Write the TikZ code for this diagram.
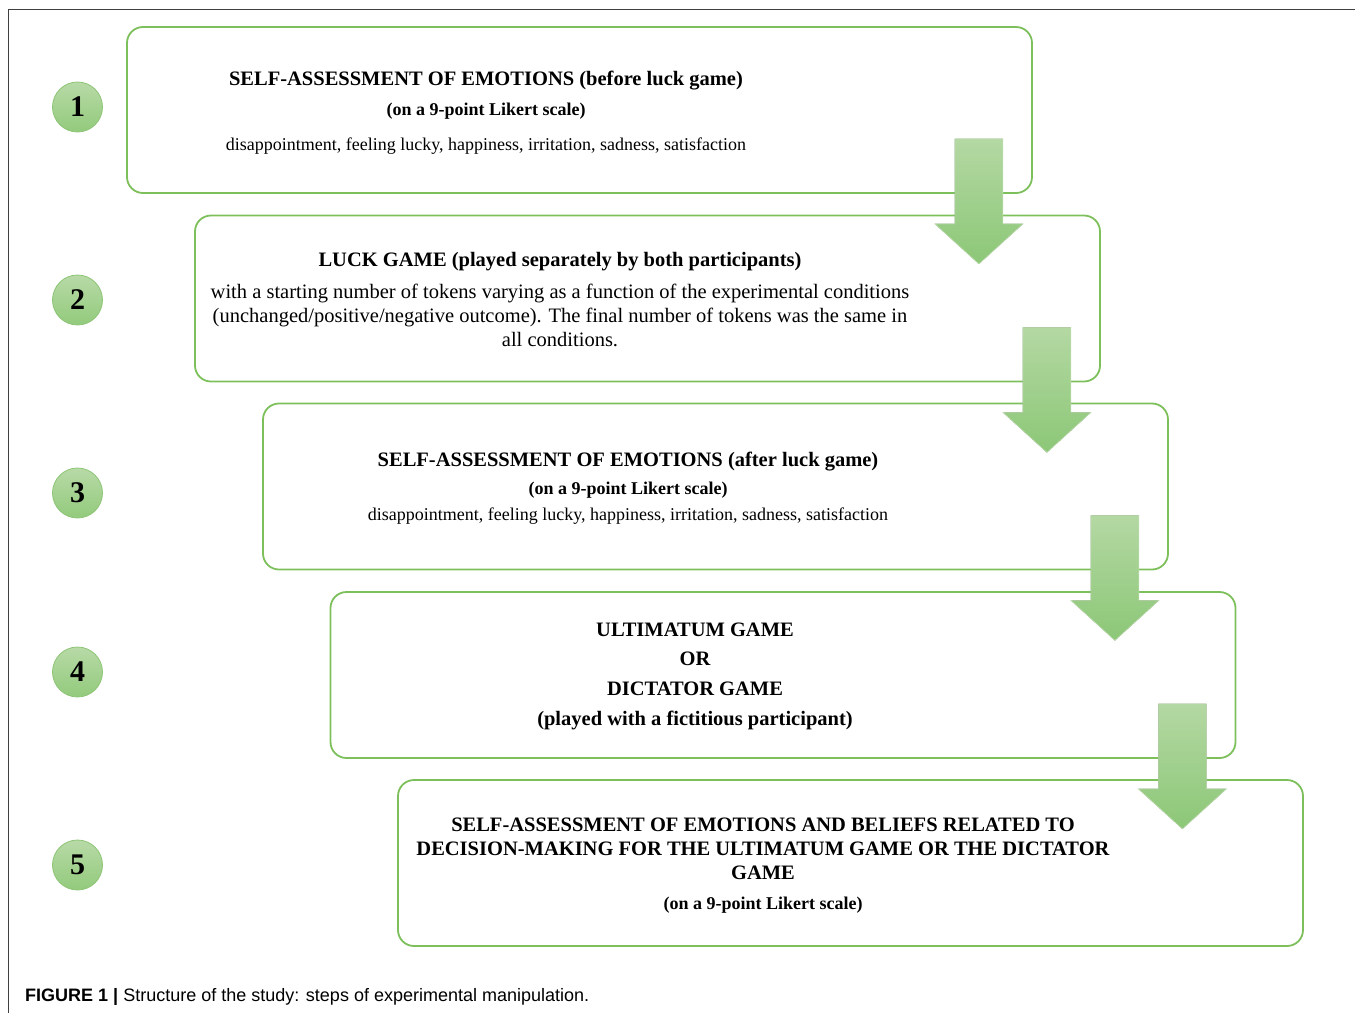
\documentclass[tikz,border=0pt]{standalone}
\usepackage{fontspec}
\setmainfont{Liberation Serif}
\newfontfamily\capfont{Liberation Sans}
\usetikzlibrary{positioning}
\definecolor{boxgreen}{HTML}{7DC05B}
\definecolor{arrtop}{HTML}{B4D8A3}
\definecolor{arrbot}{HTML}{8CC777}
\definecolor{numtop}{HTML}{B8DAA7}
\definecolor{numbot}{HTML}{92CA7C}
\definecolor{numedge}{HTML}{8DC576}
\begin{document}
\begin{tikzpicture}[x=1pt, y=-1pt,
    stepbox/.style = {draw=boxgreen, line width=1.8pt, rounded corners=16pt,
      minimum width=905pt, minimum height=166pt, inner sep=0pt},
    stepnum/.style = {circle, draw=numedge, line width=.8pt, top color=numtop,
      bottom color=numbot, minimum size=50pt, inner sep=0pt,
      font=\fontsize{30}{30}\selectfont\bfseries},
    downarrow/.style = {draw=arrtop!80!white, line width=.6pt, top color=arrtop,
      bottom color=arrbot},
    headline/.style = {anchor=base, font=\fontsize{20.5}{24}\selectfont\bfseries},
    subline/.style = {anchor=base, font=\fontsize{18}{20}\selectfont\bfseries},
    listline/.style = {anchor=base, font=\fontsize{18}{20}\selectfont},
    bodyline/.style = {anchor=base, font=\fontsize{20.5}{22}\selectfont}]
  \useasboundingbox (0,0) rectangle (1355,1013);
  \draw [line width=1pt, black!75] (8,1013) -- (8,9) -- (1355,9);

  % steps
  \node [stepbox] (box1) at (579.5,110) {};
  \node [stepbox] (box2) at (647.5,298.5) {};
  \node [stepbox] (box3) at (715.5,486.5) {};
  \node [stepbox] (box4) at (783,675) {};
  \node [stepbox] (box5) at (850.5,863) {};

  % arrows between the steps
  \foreach \i/\j in {1/2, 2/3, 3/4, 4/5}
    \filldraw [downarrow] (box\i.south east) ++(-78,-55) -- ++(48,0) -- ++(0,85)
      -- ++(20,0) -- ++(-44,40) -- ++(-44,-40) -- ++(20,0) -- cycle;

  \foreach \n/\y in {1/107, 2/300, 3/493, 4/672, 5/865}
    \node [stepnum] (num\n) at (77.5,\y) {\n};

  % texts
  \node [headline] (t1a) at (486,85) {SELF-ASSESSMENT OF EMOTIONS (before luck game)};
  \node [subline] (t1b) at (486,115) {(on a 9-point Likert scale)};
  \node [listline] (t1c) at (486,150) {disappointment, feeling lucky, happiness, irritation, sadness, satisfaction};

  \node [headline] (t2a) at (560,266) {LUCK GAME (played separately by both participants)};
  \node [bodyline] (t2b) at (560,298) {with a starting number of tokens varying as a function of the experimental conditions};
  \node [bodyline] (t2c) at (560,322) {(unchanged/positive/negative outcome). The final number of tokens was the same in};
  \node [bodyline] (t2d) at (560,346) {all conditions.};

  \node [headline] (t3a) at (628,466) {SELF-ASSESSMENT OF EMOTIONS (after luck game)};
  \node [subline] (t3b) at (628,494) {(on a 9-point Likert scale)};
  \node [listline] (t3c) at (628,520) {disappointment, feeling lucky, happiness, irritation, sadness, satisfaction};

  \node [headline] (t4a) at (695,636) {ULTIMATUM GAME};
  \node [headline] (t4b) at (695,665) {OR};
  \node [headline] (t4c) at (695,695) {DICTATOR GAME};
  \node [headline] (t4d) at (695,725) {(played with a fictitious participant)};

  \node [headline] (t5a) at (763,831) {SELF-ASSESSMENT OF EMOTIONS AND BELIEFS RELATED TO};
  \node [headline] (t5b) at (763,855) {DECISION-MAKING FOR THE ULTIMATUM GAME OR THE DICTATOR};
  \node [headline] (t5c) at (763,879) {GAME};
  \node [subline] (t5d) at (763,909) {(on a 9-point Likert scale)};

  \node [anchor=base west, inner sep=0pt, font=\capfont\fontsize{18}{20}\selectfont] (caption)
    at (25,1001) {\textbf{FIGURE 1 |} Structure of the study: steps of experimental manipulation.};
\end{tikzpicture}
\end{document}
